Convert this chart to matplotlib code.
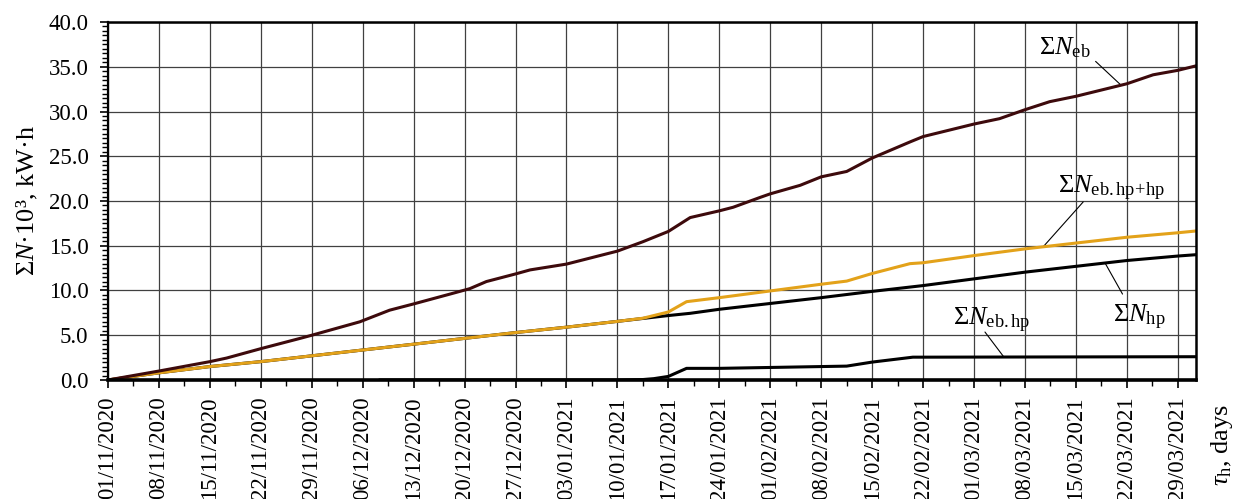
import numpy as np
import matplotlib.pyplot as plt
from matplotlib.ticker import MultipleLocator

plt.rcParams['font.family'] = 'Liberation Serif'
plt.rcParams['mathtext.fontset'] = 'custom'
plt.rcParams['mathtext.rm'] = 'Liberation Serif'
plt.rcParams['mathtext.it'] = 'Liberation Serif:italic'
plt.rcParams['mathtext.bf'] = 'Liberation Serif:bold'

# week labels on the time axis (day 0 = 01/11/2020)
date_labels = ['01/11/2020', '08/11/2020', '15/11/2020', '22/11/2020', '29/11/2020',
               '06/12/2020', '13/12/2020', '20/12/2020', '27/12/2020', '03/01/2021',
               '10/01/2021', '17/01/2021', '24/01/2021', '01/02/2021', '08/02/2021',
               '15/02/2021', '22/02/2021', '01/03/2021', '08/03/2021', '15/03/2021',
               '22/03/2021', '29/03/2021']

# cumulative consumption, thousands of kW*h
days_eb = [0, 7, 14, 16.3, 21, 26.4, 28, 34.6, 38.7, 42, 47, 49.7, 52, 56, 58, 63,
           67.1, 70, 73.5, 77, 80, 84, 85.9, 89.6, 91, 95.1, 98, 101.5, 105, 110.2,
           112, 119, 122.5, 126, 129.4, 133, 140, 143.6, 147, 149.5]
n_eb = [0, 1.0, 2.05, 2.45, 3.5, 4.65, 5.0, 6.5, 7.8, 8.5, 9.6, 10.2, 11.0, 11.85, 12.3,
        12.95, 13.8, 14.4, 15.45, 16.6, 18.15, 18.9, 19.3, 20.4, 20.8, 21.75, 22.7, 23.3,
        24.8, 26.6, 27.2, 28.6, 29.2, 30.2, 31.1, 31.7, 33.1, 34.1, 34.6, 35.1]

days_hp = [0, 7, 14, 21, 28, 35, 42, 49, 56, 63, 70, 77, 80, 84, 91, 98, 105, 112,
           119, 126, 133, 140, 147, 149.5]
n_hp = [0, 0.8, 1.5, 2.05, 2.7, 3.35, 4.0, 4.65, 5.3, 5.9, 6.55, 7.2, 7.45, 7.9, 8.55,
        9.2, 9.9, 10.55, 11.3, 12.05, 12.7, 13.35, 13.85, 14.0]

days_ebhp = [37.4, 70, 73.5, 75, 77, 79.5, 84, 91, 98, 101.5, 105, 110.6, 112, 149.5]
n_ebhp = [0, 0, 0.05, 0.15, 0.4, 1.3, 1.3, 1.4, 1.5, 1.55, 2.0, 2.55, 2.55, 2.6]

days_sum = [0, 7, 14, 21, 28, 35, 42, 49, 56, 63, 70, 73.5, 77, 79.5, 84, 91, 98,
            101.5, 105, 110.2, 112, 119, 126, 133, 140, 147, 149.5]
n_sum = [0, 0.8, 1.5, 2.05, 2.7, 3.35, 4.0, 4.65, 5.3, 5.9, 6.55, 6.9, 7.6, 8.75, 9.2,
         9.95, 10.7, 11.05, 11.9, 13.0, 13.1, 13.9, 14.65, 15.3, 15.95, 16.45, 16.65]

fig = plt.figure(figsize=(12.38, 4.99), dpi=100)
ax = fig.add_axes([0.0872, 0.2385, 0.8789, 0.7174])

ax.plot(days_ebhp, n_ebhp, color='black', lw=2.2, zorder=3)
ax.plot(days_hp, n_hp, color='black', lw=2.2, zorder=4)
ax.plot(days_sum, n_sum, color='#E3A21A', lw=2.2, zorder=5)
ax.plot(days_eb, n_eb, color='#3D0A0C', lw=2.2, zorder=6)

ax.set_xlim(0, 149.5)
ax.set_ylim(0, 40)
ax.set_xticks(7 * np.arange(len(date_labels)))
ax.set_xticklabels(date_labels, rotation=90, fontsize=16.5)
ax.xaxis.set_minor_locator(MultipleLocator(3.5))
ax.yaxis.set_major_locator(MultipleLocator(5))
ax.yaxis.set_minor_locator(MultipleLocator(0.5))
ax.set_yticks(ax.get_yticks())
ax.set_yticklabels(['%.1f' % v for v in ax.get_yticks()], fontsize=16.5)
ax.set_ylim(0, 40)
ax.tick_params(which='major', direction='out', length=6, width=1.2, colors='black')
ax.tick_params(which='minor', direction='out', length=4, width=1.0)
ax.tick_params(axis='y', pad=8)
ax.tick_params(axis='x', pad=6)
ax.grid(True, which='major', color='#404040', lw=0.9)
ax.set_axisbelow(True)

for side, w in [('bottom', 2.6), ('top', 1.8), ('left', 1.6), ('right', 1.8)]:
    ax.spines[side].set_linewidth(w)
    ax.spines[side].set_zorder(7)

ax.set_ylabel(r'$\Sigma N$·10³, kW·h', fontsize=19, labelpad=6)
fig.text(0.987, 0.19, r'$\tau_{\rm h}$, days', rotation=90, fontsize=19,
         ha='center', va='top')

# curve labels with leader lines
lbl = dict(fontsize=19, ha='left', va='baseline', zorder=8)
lead = dict(arrowstyle='-', color='black', lw=0.8, shrinkA=0, shrinkB=0)

ax.text(127.9, 36.4, r'$\Sigma N_{\rm eb}$', **lbl)
ax.annotate('', xy=(139.2, np.interp(139.2, days_eb, n_eb)), xytext=(135.7, 35.6),
            arrowprops=lead)

ax.text(130.5, 20.9, r'$\Sigma N_{\rm eb.hp\!+\!hp}$', **lbl)
ax.annotate('', xy=(128.5, np.interp(128.5, days_sum, n_sum)), xytext=(134.0, 19.9),
            arrowprops=lead)

ax.text(138.1, 6.4, r'$\Sigma N_{\rm hp}$', **lbl)
ax.annotate('', xy=(137.0, np.interp(137.0, days_hp, n_hp)), xytext=(139.4, 9.6),
            arrowprops=lead)

ax.text(116.1, 6.15, r'$\Sigma N_{\rm eb.hp}$', **lbl)
ax.annotate('', xy=(123.1, np.interp(123.1, days_ebhp, n_ebhp)), xytext=(120.5, 5.36),
            arrowprops=lead)

fig.savefig('out.png', dpi=100)
